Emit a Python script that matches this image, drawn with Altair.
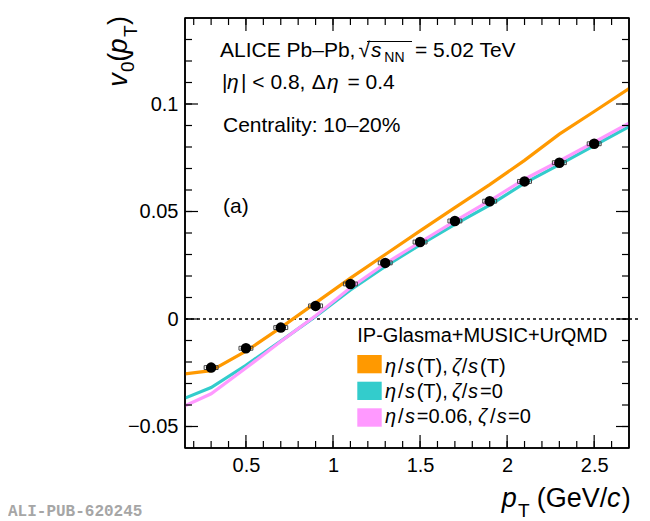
import altair as alt
import pandas as pd

# ------------------------------------------------------------
# Values
# ------------------------------------------------------------

# ALICE data points, 10-20% centrality
pt_data = [0.3, 0.5, 0.7, 0.9, 1.1, 1.3, 1.5, 1.7, 1.9, 2.1, 2.3, 2.5]
v0_data = [-0.0226, -0.0136, -0.0040, 0.0061, 0.0163, 0.0261,
           0.0358, 0.0456, 0.0548, 0.0640, 0.0727, 0.0815]
v0_sys = [0.0009, 0.0009, 0.0009, 0.0009, 0.0009, 0.0009,
          0.0009, 0.0009, 0.0009, 0.0009, 0.0009, 0.0009]

# IP-Glasma+MUSIC+UrQMD curves
pt_model = [0.15, 0.3, 0.5, 0.7, 0.9, 1.1, 1.3, 1.5, 1.7, 1.9, 2.1, 2.3, 2.5, 2.7]
v0_etas_zetas = [-0.0255, -0.0240, -0.0150, -0.0040, 0.0075, 0.0190, 0.0300,
                 0.0410, 0.0518, 0.0625, 0.0738, 0.0860, 0.0965, 0.1072]
v0_etas_zeta0 = [-0.0368, -0.0319, -0.0215, -0.0103, 0.0012, 0.0135, 0.0245,
                 0.0345, 0.0440, 0.0530, 0.0632, 0.0718, 0.0807, 0.0895]
v0_eta006_zeta0 = [-0.0404, -0.0348, -0.0228, -0.0105, 0.0015, 0.0145, 0.0258,
                   0.0357, 0.0455, 0.0550, 0.0650, 0.0735, 0.0822, 0.0911]

model_names = ["etas_zetas", "etas_zeta0", "eta006_zeta0"]
model_colors = ["#ff9900", "#33cccc", "#ff99ff"]

# axis ticks
x_major = [0.5, 1.0, 1.5, 2.0, 2.5]
x_minor = [0.2, 0.3, 0.4, 0.5, 0.6, 0.7, 0.8, 0.9, 1.0, 1.1, 1.2, 1.3, 1.4,
           1.5, 1.6, 1.7, 1.8, 1.9, 2.0, 2.1, 2.2, 2.3, 2.4, 2.5, 2.6]
y_major = [-0.05, 0.0, 0.05, 0.1]
y_minor = [-0.05, -0.04, -0.03, -0.02, -0.01, 0.0, 0.01, 0.02, 0.03, 0.04,
           0.05, 0.06, 0.07, 0.08, 0.09, 0.1, 0.11, 0.12, 0.13]

# ------------------------------------------------------------
# Tables
# ------------------------------------------------------------

points = pd.DataFrame({"pt": pt_data, "v0": v0_data, "sys": v0_sys})
points["lo"] = points["v0"] - points["sys"]
points["hi"] = points["v0"] + points["sys"]
points["xl"] = points["pt"] - 0.04
points["xr"] = points["pt"] + 0.04

curves = pd.concat([
    pd.DataFrame({"pt": pt_model, "v0": vals, "model": name})
    for name, vals in zip(model_names, [v0_etas_zetas, v0_etas_zeta0, v0_eta006_zeta0])
])

W, H = 444, 430
X0, Y0 = 185, 18          # page position of the plot frame corner
FONT = "Liberation Sans"
XMIN, XMAX = 0.15, 2.7
YMIN, YMAX = -0.06, 0.14
PX_X = (XMAX - XMIN) / W  # data units per pixel
PX_Y = (YMAX - YMIN) / H

x_scale = alt.Scale(domain=[XMIN, XMAX], nice=False, zero=False)
y_scale = alt.Scale(domain=[YMIN, YMAX], nice=False, zero=False)
color_scale = alt.Scale(domain=model_names, range=model_colors)

# stroke-only symbol shapes used for the frame, the inside ticks and the overline
# (custom paths live in [-1, 1]; a path of length 1 is sqrt(size)/2 pixels long)
shape_scale = alt.Scale(
    domain=["b", "t", "l", "r", "h", "v"],
    range=["M0,0L0,-1", "M0,0L0,1", "M0,0L1,0", "M0,0L-1,0", "M-1,0L1,0", "M0,-1L0,1"],
)

x_axis = alt.Axis(values=x_major, format="~g", title=None, grid=False, domain=False,
                  ticks=False, tickSize=0, labelPadding=7, labelFontSize=20,
                  labelFont=FONT, labelColor="black")
y_axis = alt.Axis(values=y_major, format="~g", title=None, grid=False, domain=False,
                  ticks=False, tickSize=0, labelPadding=7, labelFontSize=20,
                  labelFont=FONT, labelColor="black")


def X(field):
    return alt.X(field, scale=x_scale, axis=x_axis)


def Y(field):
    return alt.Y(field, scale=y_scale, axis=y_axis)


one = pd.DataFrame({"k": [0]})


def txt(s, px, py, size=21, italic=False, angle=0, font=FONT, color="black", weight="normal"):
    return (
        alt.Chart(one)
          .mark_text(text=s, font=font, fontSize=size,
                     fontStyle="italic" if italic else "normal", fontWeight=weight,
                     align="left", baseline="alphabetic", angle=angle, color=color)
          .encode(x=alt.value(px - X0), y=alt.value(py - Y0))
    )


def box(x1, x2, y1, y2, color):
    # filled rectangle in page pixels
    return (
        alt.Chart(one)
          .mark_rect(color=color)
          .encode(x=alt.value(x1 - X0), x2=alt.value(x2 - X0),
                  y=alt.value(y1 - Y0), y2=alt.value(y2 - Y0))
    )


# ------------------------------------------------------------
# Frame, inside ticks (all four sides) and the sqrt overline
# ------------------------------------------------------------

tick_rows = []
for vals, length in [(x_minor, 7), (x_major, 13)]:
    for t in vals:
        tick_rows.append({"x": t, "y": YMIN, "side": "b", "sz": (2 * length) ** 2})
        tick_rows.append({"x": t, "y": YMAX, "side": "t", "sz": (2 * length) ** 2})
for vals, length in [(y_minor, 7), (y_major, 13)]:
    for t in vals:
        tick_rows.append({"x": XMIN, "y": t, "side": "l", "sz": (2 * length) ** 2})
        tick_rows.append({"x": XMAX, "y": t, "side": "r", "sz": (2 * length) ** 2})
# overline of the square root in the header, from page x 367 to 412 at page y 41.5
tick_rows.append({"x": XMIN + ((367 + 412) / 2 - X0) * PX_X,
                  "y": YMAX - (41.5 - Y0) * PX_Y, "side": "h", "sz": 45 ** 2})
tick_df = pd.DataFrame(tick_rows)

frame_df = pd.DataFrame([
    {"x": (XMIN + XMAX) / 2, "y": YMIN, "side": "h", "sz": W ** 2},
    {"x": (XMIN + XMAX) / 2, "y": YMAX, "side": "h", "sz": W ** 2},
    {"x": XMIN, "y": (YMIN + YMAX) / 2, "side": "v", "sz": H ** 2},
    {"x": XMAX, "y": (YMIN + YMAX) / 2, "side": "v", "sz": H ** 2},
])


def stroke_symbols(df, width):
    return (
        alt.Chart(df)
          .mark_point(filled=False, color="black", opacity=1, strokeWidth=width)
          .encode(
              x=X("x:Q"),
              y=Y("y:Q"),
              shape=alt.Shape("side:N", scale=shape_scale, legend=None),
              size=alt.Size("sz:Q", scale=None, legend=None),
          )
    )


frame_layer = stroke_symbols(frame_df, 1.6)
tick_layer = stroke_symbols(tick_df, 1.2)

# ------------------------------------------------------------
# Data layers
# ------------------------------------------------------------

zero_line = (
    alt.Chart(one)
      .mark_rule(color="black", strokeWidth=1.5, strokeDash=[3, 3])
      .encode(y=alt.datum(0, scale=y_scale, axis=y_axis), x=alt.value(0), x2=alt.value(W + 9))
)

lines = (
    alt.Chart(curves)
      .mark_line(strokeWidth=3.2, clip=True)
      .encode(
          x=X("pt:Q"),
          y=Y("v0:Q"),
          color=alt.Color("model:N", scale=color_scale, legend=None),
          order=alt.Order("pt:Q"),
      )
)

sys_boxes = (
    alt.Chart(points)
      .mark_rect(fill="transparent", stroke="#444444", strokeWidth=1)
      .encode(x=X("xl:Q"), x2="xr:Q", y=Y("lo:Q"), y2="hi:Q")
)

markers = (
    alt.Chart(points)
      .mark_point(filled=True, shape="circle", size=110, color="black", opacity=1)
      .encode(x=X("pt:Q"), y=Y("v0:Q"))
)

# ------------------------------------------------------------
# Text annotations
# ------------------------------------------------------------

header = [
    txt("ALICE Pb–Pb,", 220, 57.3),
    txt("√", 358.5, 57.3),
    txt("s", 371, 57.3, italic=True),
    txt("NN", 384.3, 61.7, size=14),
    txt("= 5.02 TeV", 415, 57.3),
    txt("|", 222, 89.3),
    txt("η", 227, 89.3, italic=True),
    txt("| < 0.8,", 241, 89.3),
    txt("Δ", 311.7, 89.3),
    txt("η", 327, 89.3, italic=True),
    txt("= 0.4", 347.5, 89.3),
    txt("Centrality: 10–20%", 223, 131.7),
    txt("(a)", 223, 213),
]

legend = [
    txt("IP-Glasma+MUSIC+UrQMD", 357.3, 341.7, size=20),
    box(357.3, 381.7, 355, 373.3, model_colors[0]),
    box(357.3, 381.7, 381.7, 400, model_colors[1]),
    box(357.3, 381.7, 408.3, 426.7, model_colors[2]),
]
for base_y, segs in [
    (373.3, [("η", 385, 1), ("/", 398, 0), ("s", 405, 1), ("(T),", 416.7, 0),
             ("ζ", 452, 1), ("/", 461.7, 0), ("s", 468, 1), ("(T)", 480, 0)]),
    (398.3, [("η", 385, 1), ("/", 398, 0), ("s", 405, 1), ("(T),", 416.7, 0),
             ("ζ", 452, 1), ("/", 461.7, 0), ("s", 468, 1), ("=0", 480, 0)]),
    (423.3, [("η", 385, 1), ("/", 398, 0), ("s", 405, 1), ("=0.06,", 416.7, 0),
             ("ζ", 478, 1), ("/", 490, 0), ("s", 496.7, 1), ("=0", 508, 0)]),
]:
    legend += [txt(s, px, base_y, size=20, italic=bool(it)) for s, px, it in segs]

axis_titles = [
    # x title: pT (GeV/c)
    txt("p", 501.7, 506.7, size=27, italic=True),
    txt("T", 518, 516.7, size=19),
    txt("(GeV/", 536.7, 506.7, size=27),
    txt("c", 607, 506.7, size=27, italic=True),
    txt(")", 621.7, 506.7, size=27),
    # y title: v0(pT), rotated
    txt("v", 126.7, 86.7, size=27, italic=True, angle=270),
    txt("0", 133.5, 72, size=19, angle=270),
    txt("(", 126.7, 61.7, size=27, angle=270),
    txt("p", 126.7, 53.5, size=27, italic=True, angle=270),
    txt("T", 136.7, 37, size=19, angle=270),
    txt(")", 126.7, 25, size=27, angle=270),
]

watermark = [txt("ALI-PUB-620245", 8, 516, size=16, font="Liberation Mono",
                 color="#a6a6a6", weight="bold")]

# ------------------------------------------------------------
# Assemble
# ------------------------------------------------------------

chart = (
    alt.layer(zero_line, lines, sys_boxes, markers, frame_layer, tick_layer,
              *header, *legend, *axis_titles, *watermark)
      .properties(
          width=W,
          height=H,
          padding={"left": 177, "top": 10, "right": 13, "bottom": 72},
          autosize=alt.AutoSizeParams(type="none"),
          background="white",
      )
      .configure_view(stroke="black", strokeWidth=1.5)
)

chart.save("out.html", embed_options={"renderer": "svg", "actions": False})
